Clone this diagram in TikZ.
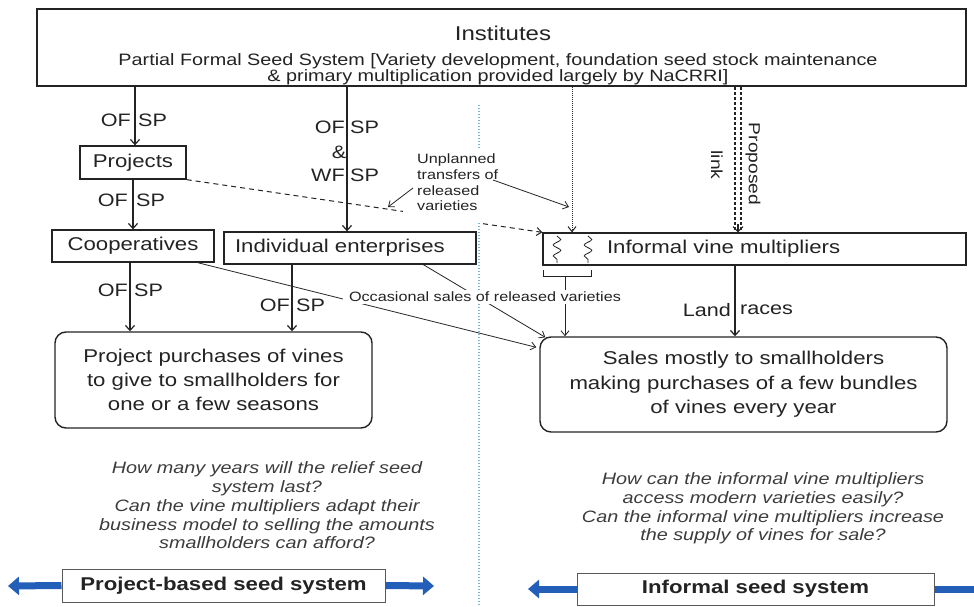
\documentclass[tikz,border=0pt]{standalone}
\usepackage{fontspec}
\setmainfont{Liberation Sans}[FakeStretch=1.2]
\usetikzlibrary{arrows.meta,decorations.pathmorphing,calc}
\definecolor{ink}{RGB}{35,35,35}
\definecolor{qgray}{RGB}{60,60,60}
\definecolor{divblue}{RGB}{120,180,220}
\definecolor{arrblue}{RGB}{35,95,185}
\begin{document}
\begin{tikzpicture}[x=1pt,y=-1pt,
  every node/.style={inner sep=0pt,text=ink},
  box/.style={draw=ink,line width=1.3pt,rectangle},
  rbox/.style={draw=ink,line width=1.4pt,rectangle,rounded corners=11pt},
  lab/.style={font=\fontsize{18.5}{22}\selectfont},
  oflab/.style={font=\fontsize{18}{21}\selectfont},
  small/.style={font=\fontsize{13.5}{15.6}\selectfont},
  arr/.style={draw=ink,line width=1.2pt,-{Straight Barb[length=5pt,width=9pt]}},
  tarr/.style={draw=ink,line width=0.8pt,-{Straight Barb[length=5pt,width=8pt]}},
  quest/.style={font=\fontsize{16.5}{18.7}\selectfont\itshape,text=qgray,align=center},
  sysbox/.style={draw=gray!70!black,line width=1pt,fill=white,font=\fontsize{18.5}{22}\selectfont\bfseries},
  bluearr/.style={draw=arrblue,line width=7pt,-{Triangle[length=11pt,width=18pt]}},
  divider/.style={draw=divblue,line width=1.1pt,dash pattern=on 1.2pt off 1.8pt},
  propline/.style={draw=ink,line width=1.1pt,dash pattern=on 3pt off 2pt},
  wavy/.style={draw=ink,line width=0.8pt,decorate,decoration={snake,amplitude=3.8pt,segment length=11pt}}
]
\useasboundingbox (0,0) rectangle (974,607);

% ---- boxes ----
\node[box,line width=1.6pt,minimum width=929,minimum height=77] (top) at (501.5,47.5) {};
\node[font=\fontsize{20}{24}\selectfont] (inst) at (503,33) {Institutes};
\node[font=\fontsize{16.5}{14}\selectfont,align=center] (desc) at (498,69)
  {Partial Formal Seed System [Variety development, foundation seed stock maintenance\\ \& primary multiplication provided largely by NaCRRI]};

\node[box,lab,minimum width=106,minimum height=33] (projects) at (133,162.5) {Projects};
\node[box,lab,minimum width=162,minimum height=32] (coop) at (133,246) {Cooperatives};
\node[box,lab,minimum height=32,text width=230,inner xsep=11,align=left] (indiv) at (350,248) {Individual enterprises};
\node[box,lab,minimum height=32,text width=295,inner xsep=64,align=left] (informal) at (754.5,249) {Informal vine multipliers};

\node[rbox,font=\fontsize{18.5}{24}\selectfont,align=center,minimum width=317,minimum height=96] (projbox) at (213.5,380)
  {Project purchases of vines\\to give to smallholders for\\one or a few seasons};
\node[rbox,font=\fontsize{18.5}{24.5}\selectfont,align=center,minimum width=407,minimum height=95] (sales) at (743.5,384.5)
  {Sales mostly to smallholders\\making purchases of a few bundles\\of vines every year};

% wavy marks inside the informal box
\draw[wavy] (557,236) -- (557,263);
\draw[wavy] (588,236) -- (588,263);

% ---- x positions of connectors ----
\coordinate (xa) at (135,0);
\coordinate (xb) at (133,0);
\coordinate (xc) at (347,0);
\coordinate (xd) at (130,0);
\coordinate (xe) at (292,0);
\coordinate (xf) at (572,0);
\coordinate (xg) at (735,0);
\coordinate (xp1) at (735,0);
\coordinate (xp2) at (741,0);
\coordinate (xpc) at (738,0);

% ---- solid flows ----
\draw[arr] (top.south -| xa) -- (projects.north -| xa);
\draw[arr] (projects.south -| xb) -- (coop.north -| xb);
\draw[arr] (top.south -| xc) -- (indiv.north -| xc);
\draw[arr] (coop.south -| xd) -- (projbox.north -| xd);
\draw[arr] (indiv.south -| xe) -- (projbox.north -| xe);
\draw[arr] (informal.south -| xg) -- (sales.north -| xg);

% dotted link
\draw[draw=ink,line width=1pt,densely dotted,-{Straight Barb[length=5pt,width=8pt]}] (top.south -| xf) -- (informal.north -| xf);

% proposed link (double dashed)
\draw[propline] (top.south -| xp1) -- (informal.north -| xp1);
\draw[propline] (top.south -| xp2) -- (informal.north -| xp2);
\draw[draw=ink,line width=1.1pt,-{Straight Barb[length=5pt,width=10pt]}] ($(informal.north -| xpc)+(0,-8)$) -- (informal.north -| xpc);
\node[font=\fontsize{16}{18}\selectfont,rotate=-90] (prop) at (753,164) {Proposed};
\node[font=\fontsize{16}{18}\selectfont,rotate=-90] (link) at (717,165) {link};

% ---- OF SP labels ----
\node[oflab,anchor=east] (of1) at (131,120) {OF};
\node[oflab,anchor=west] (sp1) at (138,120) {SP};
\node[oflab,anchor=east] (of2) at (128,200) {OF};
\node[oflab,anchor=west] (sp2) at (136,200) {SP};
\node[oflab,anchor=east] (of3) at (345,127) {OF};
\node[oflab,anchor=west] (sp3) at (350,127) {SP};
\node[oflab] (amp) at (339,152) {\&};
\node[oflab,anchor=east] (wf3) at (345,175) {WF};
\node[oflab,anchor=west] (sp3b) at (350,175) {SP};
\node[oflab,anchor=east] (of4) at (128,290) {OF};
\node[oflab,anchor=west] (sp4) at (134,290) {SP};
\node[oflab,anchor=east] (of5) at (290,305) {OF};
\node[oflab,anchor=west] (sp5) at (296,305) {SP};
\node[oflab,anchor=east] (land) at (731,310) {Land};
\node[oflab,anchor=west] (races) at (740,310) {races};

% ---- divider ----
\draw[divider] (479,105) -- (479,148);
\draw[divider] (479,223) -- (479,607);

% ---- unplanned transfers ----
\coordinate (d1) at (403,211.4);
\coordinate (d2) at (483,223.7);
\draw[draw=ink,line width=1pt,dash pattern=on 5pt off 4pt] (projects.south east) -- (d1);
\draw[draw=ink,line width=1pt,dash pattern=on 5pt off 4pt,-{Straight Barb[length=5pt,width=8pt]}] (d2) -- (informal.north west);
\node[small,align=left,anchor=north west] (unpl) at (417,154) {Unplanned\\transfers of\\released\\varieties};
\coordinate (u1) at (413,188);
\coordinate (u2) at (388,207);
\coordinate (u3) at (493,180);
\coordinate (u4) at (569,207);
\draw[tarr] (u1) -- (u2);
\draw[tarr] (u3) -- (u4);

% ---- occasional sales ----
\coordinate (cs) at ($(coop.south east)+(-17,0)$);
\coordinate (ce) at ($(sales.north west)+(-3,11)$);
\coordinate (is) at ($(indiv.south west)+(200,0)$);
\coordinate (ie) at ($(sales.north west)+(6,1)$);
\draw[tarr] (cs) -- (ce);
\draw[tarr] (is) -- (ie);
\draw[ink,line width=0.8pt] (543,270) -- (543,276) -- (591,276) -- (591,270);
\coordinate (br) at (565,276);
\draw[tarr] (br) -- (sales.north -| br);
\node[small,fill=white,inner xsep=6pt,inner ysep=2pt] (occ) at (485,297) {Occasional sales of released varieties};

% ---- questions ----
\node[quest] (q1) at (267,505.5) {How many years will the relief seed\\system last?\\Can the vine multipliers adapt their\\business model to selling the amounts\\smallholders can afford?};
\node[quest] (q2) at (763,508.5) {How can the informal vine multipliers\\access modern varieties easily?\\Can the informal vine multipliers increase\\the supply of vines for sale?};

% ---- bottom system labels ----
\node[sysbox,minimum width=323,minimum height=33] (pb) at (223.5,585.5) {Project-based seed system};
\node[sysbox,minimum width=357,minimum height=32] (ib) at (755.5,589) {Informal seed system};
\coordinate (pbl) at (8,586);
\coordinate (pbr) at (434,586);
\coordinate (ibl) at (528,589);
\coordinate (ibr) at (990,589);
\draw[bluearr] (pb.west) -- (pbl);
\draw[bluearr] (pb.east) -- (pbr);
\draw[bluearr] (ib.west) -- (ibl);
\draw[bluearr] (ib.east) -- (ibr);
\end{tikzpicture}
\end{document}
